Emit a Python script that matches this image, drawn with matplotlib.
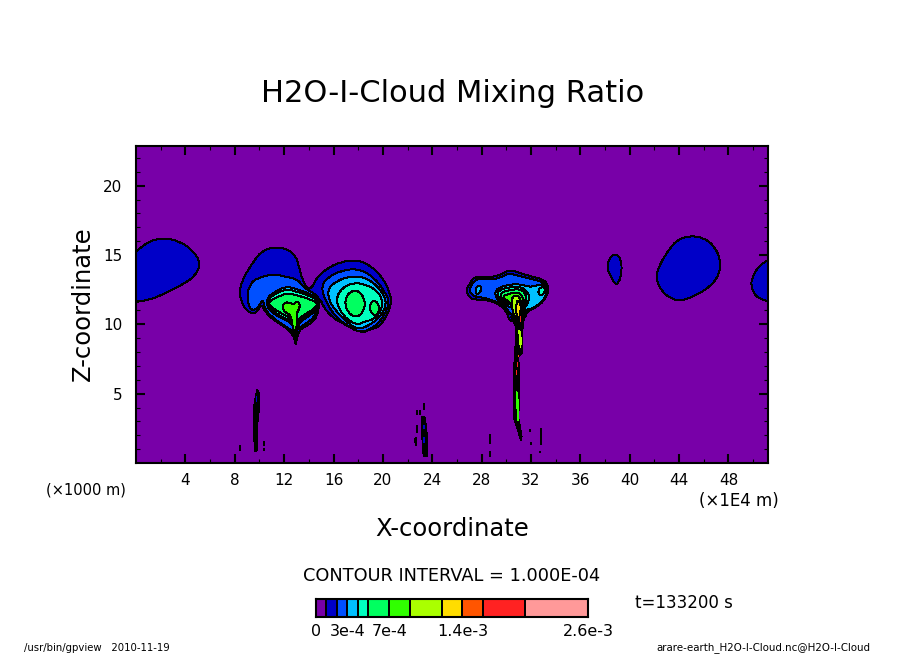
import matplotlib
matplotlib.use("Agg")
import matplotlib.pyplot as plt
from matplotlib.colors import ListedColormap, BoundaryNorm
from matplotlib.path import Path
from matplotlib.patches import PathPatch

W, H = 904, 654

# colour scale
levels = [0, 1e-4, 2e-4, 3e-4, 4e-4, 5e-4, 7e-4, 9e-4, 1.2e-3, 1.4e-3, 1.6e-3, 2e-3, 2.6e-3]
level_colors = ["#7800a8", "#0000c8", "#0050ff", "#00c0ff", "#00ffc0", "#00ff60",
                "#30ff00", "#aaff00", "#ffdd00", "#ff5500", "#ff2222", "#ff9999"]
bar_label_values = [0, 3e-4, 7e-4, 1.4e-3, 2.6e-3]
bar_label_texts = ["0", "3e-4", "7e-4", "1.4e-3", "2.6e-3"]

x_ticks = list(range(4, 49, 4))
z_ticks = [5, 10, 15, 20]

# contour outlines: (x [1e4 m], z [1000 m])
blob_left = [(-0.6, 14.7), (0.86, 15.95), (2.2, 16.25), (3.57, 15.98), (4.65, 15.3), (5.25, 14.4),
             (4.82, 13.5), (3.84, 12.9), (2.49, 12.3), (1.13, 11.75), (-0.6, 11.55)]
blob_small = [(38.22, 14.45), (38.5, 14.95), (38.95, 15.05), (39.3, 14.7), (39.36, 13.79),
              (39.12, 13.0), (38.82, 12.85), (38.5, 13.43), (38.2, 13.95)]
blob_big = [(42.1, 13.43), (42.42, 14.3), (43.1, 15.3), (43.78, 16.05), (44.76, 16.4), (46.0, 16.25),
            (46.85, 15.65), (47.37, 14.64), (47.27, 13.62), (46.58, 12.75), (45.43, 12.13), (44.22, 11.68),
            (43.38, 11.82), (42.52, 12.42)]
blob_right = [(51.9, 14.9), (50.55, 14.35), (49.95, 13.43), (49.8, 12.83), (50.1, 12.15), (50.57, 11.8),
              (51.9, 11.55)]
twin_l1 = [(8.35, 12.47), (8.78, 13.48), (9.46, 14.45), (10.15, 15.27), (11.13, 15.58), (12.25, 15.46),
           (12.95, 14.93), (13.2, 14.16), (13.47, 13.25), (13.83, 12.6), (14.24, 12.6), (14.62, 13.35),
           (15.42, 14.0), (16.53, 14.5), (17.88, 14.66), (19.02, 14.24), (19.98, 13.37), (20.53, 12.35),
           (20.72, 11.63), (20.38, 10.72), (19.7, 9.8), (18.96, 9.63), (18.29, 9.37), (17.02, 9.94),
           (15.92, 10.47), (15.12, 11.33), (14.91, 11.95), (14.7, 10.5), (13.87, 9.87), (13.2, 9.63),
           (12.94, 8.55), (12.94, 8.55), (12.72, 9.28), (12.17, 9.75), (11.08, 10.35), (10.4, 10.97),
           (10.18, 11.5), (9.66, 10.7), (8.92, 10.97), (8.48, 11.75)]
mid_l2 = [(8.95, 11.99), (9.24, 12.88), (9.75, 13.32), (11.13, 13.65), (12.21, 13.41), (13.05, 13.28),
          (13.6, 12.65), (14.55, 12.17), (14.92, 11.75), (14.56, 10.62), (13.74, 10.0), (13.05, 9.7),
          (12.9, 9.0), (12.9, 9.0), (12.72, 9.52), (12.03, 9.88), (11.08, 10.48), (10.4, 11.1),
          (10.3, 11.85), (9.9, 11.2), (9.32, 10.92)]
mid_l3 = [(10.6, 11.9), (11.22, 12.35), (12.21, 12.75), (13.2, 12.5), (14.14, 12.18), (14.85, 11.78),
          (14.78, 11.1), (14.0, 10.6), (13.2, 10.12), (12.94, 9.45), (12.94, 9.45), (12.72, 10.0),
          (12.03, 10.36), (11.2, 10.72), (10.6, 11.23)]
mid_l4 = [(10.68, 11.82), (11.3, 12.2), (12.21, 12.55), (13.18, 12.32), (14.12, 12.03), (14.78, 11.72),
          (14.72, 11.14), (13.95, 10.68), (13.14, 10.2), (12.92, 9.58), (12.92, 9.58), (12.76, 10.08),
          (12.1, 10.44), (11.28, 10.8), (10.68, 11.28)]
mid_l5 = [(10.78, 11.66), (11.46, 11.98), (12.21, 12.24), (13.16, 12.08), (14.1, 11.79), (14.68, 11.6),
          (14.62, 11.22), (13.84, 10.82), (13.08, 10.36), (12.9, 9.76), (12.9, 9.76), (12.81, 10.24),
          (12.2, 10.62), (11.4, 10.96), (10.8, 11.38)]
mid_heart = [(11.9, 11.39), (12.1, 11.6), (12.48, 11.55), (12.75, 11.42), (13.05, 11.67), (13.3, 11.48),
             (13.2, 11.05), (12.98, 10.75), (13.06, 10.28), (12.98, 9.65), (12.83, 9.35), (12.64, 10.05),
             (12.57, 10.64), (12.17, 10.82), (11.9, 11.05)]
east_l2 = [(15.02, 12.76), (15.54, 13.4), (16.67, 13.89), (18.02, 14.02), (19.28, 13.4), (20.12, 12.38),
           (20.54, 11.63), (20.12, 10.62), (19.28, 9.75), (18.15, 9.37), (17.17, 9.88), (16.07, 10.6),
           (15.25, 11.87)]
east_l3 = [(15.55, 12.52), (16.08, 13.02), (17.07, 13.42), (18.29, 13.47), (19.45, 12.9), (20.13, 12.02),
           (20.28, 11.39), (19.85, 10.6), (19.0, 9.98), (18.02, 9.6), (17.16, 10.1), (16.18, 10.97),
           (15.62, 11.75)]
east_l4 = [(16.25, 11.99), (16.74, 12.66), (17.58, 12.98), (18.45, 12.93), (19.58, 12.42), (20.0, 11.63),
           (19.85, 10.98), (19.28, 10.35), (18.56, 10.22), (18.02, 9.97), (17.3, 10.22), (16.74, 10.72),
           (16.3, 11.39)]
east_l5a = [(17.0, 11.87), (17.28, 12.3), (17.75, 12.45), (18.2, 12.3), (18.5, 11.78), (18.56, 11.27),
            (18.2, 10.64), (17.69, 10.52), (17.2, 10.84), (16.94, 11.39)]
east_l5b = [(18.9, 11.27), (19.1, 11.66), (19.45, 11.72), (19.72, 11.27), (19.65, 10.85), (19.37, 10.62),
            (19.05, 10.85)]
anvil_l1 = [(26.72, 12.47), (27.02, 12.9), (27.43, 13.46), (28.28, 13.41), (29.36, 13.46), (30.17, 13.95),
            (30.88, 13.77), (31.95, 13.46), (33.2, 13.2), (33.46, 12.47), (33.08, 11.7), (32.37, 11.2),
            (31.68, 10.95), (31.5, 10.38), (30.28, 10.12), (30.13, 10.75), (29.73, 11.2), (29.2, 11.55),
            (28.28, 11.78), (27.43, 11.78), (27.02, 11.93)]
anvil_l2 = [(26.93, 12.47), (27.57, 13.35), (28.42, 13.24), (29.36, 13.28), (30.17, 13.7), (30.88, 13.52),
            (31.95, 13.28), (33.08, 13.03), (33.3, 12.47), (32.93, 11.83), (32.36, 11.33), (31.68, 11.08),
            (31.35, 10.6), (30.4, 10.6), (30.0, 11.2), (29.32, 11.6), (28.25, 11.92), (27.38, 11.98)]
anvil_l3 = [(29.08, 12.5), (30.0, 12.84), (31.12, 12.92), (31.79, 12.68), (32.47, 12.8), (33.13, 12.93),
            (33.32, 12.35), (33.0, 11.7), (32.36, 11.27), (31.68, 11.0), (31.12, 11.18), (30.44, 11.18),
            (29.73, 11.43), (29.15, 11.85)]
anvil_spot_l3 = [(27.5, 12.58), (27.72, 12.82), (28.0, 12.72), (27.9, 12.3), (27.58, 12.13)]
anvil_spot_l4 = [(32.55, 12.48), (32.87, 12.72), (33.16, 12.6), (33.04, 12.17), (32.68, 12.03)]
anvil_l4 = [(29.3, 12.43), (30.17, 12.67), (31.14, 12.75), (31.8, 12.27), (31.87, 11.75), (31.52, 11.2),
            (31.12, 11.33), (30.44, 11.38), (29.82, 11.57), (29.3, 11.98)]
anvil_l5 = [(29.45, 12.28), (30.31, 12.48), (31.14, 12.56), (31.58, 12.2), (31.66, 11.63), (31.35, 11.08),
            (30.98, 11.38), (30.31, 11.52), (29.72, 11.7)]
anvil_l6 = [(29.58, 12.03), (30.44, 12.25), (31.0, 12.33), (31.38, 11.92), (31.47, 11.27), (31.15, 10.83),
            (30.7, 11.2), (30.27, 11.58)]
anvil_l7 = [(30.4, 11.9), (30.85, 12.15), (31.17, 11.8), (31.32, 11.03), (31.0, 10.1), (30.68, 10.5),
            (30.46, 11.15)]
anvil_l8 = [(30.8, 11.66), (31.07, 11.72), (31.2, 11.15), (31.02, 10.3), (30.8, 10.6)]
stem_main = [(31.44, 11.75), (31.52, 11.03), (31.33, 9.83), (31.25, 7.91), (30.98, 7.67), (31.04, 6.46),
             (31.07, 4.54), (30.96, 3.34), (31.25, 1.9), (31.17, 1.66), (30.93, 2.38), (30.58, 3.34),
             (30.58, 6.46), (30.71, 7.91), (30.79, 9.83), (30.39, 10.55), (30.98, 10.67), (31.17, 11.51)]
stem_west = [(9.64, 0.82), (9.51, 2.62), (9.59, 4.3), (9.72, 4.9), (9.83, 5.31), (9.97, 4.97), (9.91, 4.3),
             (9.91, 3.46), (9.78, 2.38), (9.78, 0.94)]
stem_mid = [(23.17, 3.3), (23.4, 3.3), (23.55, 2.2), (23.55, 0.46), (23.3, 0.46), (23.2, 1.6)]

# coloured slivers inside the stems
sliver_green = [(30.85, 5.14), (31.0, 4.3), (31.0, 3.1), (30.9, 3.1), (30.85, 4.3)]
sliver_lime = [(31.01, 9.59), (31.09, 9.59), (31.22, 8.87), (31.17, 8.34), (31.07, 8.63)]
sliver_red_a = [(31.09, 10.6), (31.2, 10.6), (31.2, 10.17), (31.09, 10.17)]
sliver_red_b = [(30.85, 7.31), (30.93, 7.31), (30.93, 6.95), (30.85, 6.95)]
sliver_red_c = [(30.79, 6.71), (30.87, 6.71), (30.87, 6.34), (30.79, 6.34)]
sliver_orange = [(30.96, 7.79), (31.04, 7.79), (31.04, 7.62), (30.96, 7.62)]
sliver_blue_a = [(9.69, 4.83), (9.8, 4.83), (9.8, 4.42), (9.69, 4.42)]
sliver_blue_b = [(23.27, 2.75), (23.42, 2.75), (23.42, 2.45), (23.27, 2.45)]
sliver_blue_c = [(23.27, 1.85), (23.42, 1.85), (23.42, 1.45), (23.27, 1.45)]

# isolated black flecks: x, z bottom, z top
fleck_x = [8.43, 10.37, 10.37, 9.99, 23.36, 22.74, 23.0, 22.78, 22.6, 22.72, 28.69, 28.66, 32.82, 32.78, 31.98, 31.9, 32.75]
fleck_z0 = [0.85, 1.25, 0.85, 3.6, 3.8, 3.45, 3.45, 2.15, 1.45, 1.25, 1.35, 0.46, 1.3, 2.3, 1.3, 2.25, 0.7]
fleck_z1 = [1.3, 1.6, 1.1, 4.6, 4.35, 3.8, 3.8, 2.75, 1.8, 1.9, 2.1, 0.85, 2.35, 2.55, 1.5, 2.45, 0.9]

# draw order: (level index, outline)
regions = [
    (1, blob_left), (1, blob_small), (1, blob_big), (1, blob_right),
    (1, twin_l1), (2, mid_l2), (2, east_l2), (3, east_l3), (4, east_l4),
    (5, east_l5a), (5, east_l5b),
    (3, mid_l3), (4, mid_l4), (5, mid_l5), (6, mid_heart),
    (1, anvil_l1), (2, anvil_l2), (3, anvil_l3), (3, anvil_spot_l3),
    (4, anvil_spot_l4), (4, anvil_l4), (5, anvil_l5), (6, anvil_l6),
]
stems = [stem_main, stem_west, stem_mid]
top_regions = [(7, anvil_l7), (8, anvil_l8)]
slivers = [(6, sliver_green), (7, sliver_lime), (10, sliver_red_a), (10, sliver_red_b), (10, sliver_red_c),
           (9, sliver_orange), (1, sliver_blue_a), (1, sliver_blue_b), (1, sliver_blue_c)]

fig = plt.figure(figsize=(W / 100, H / 100), dpi=100, facecolor="white")
ax = fig.add_axes([136 / W, 1 - 463 / H, 632 / W, 317 / H], facecolor=level_colors[0])
ax.set_xlim(0, 51.2)
ax.set_ylim(0, 22.86)


def smooth_path(pts):
    mids = [((pts[i][0] + pts[(i + 1) % len(pts)][0]) / 2, (pts[i][1] + pts[(i + 1) % len(pts)][1]) / 2)
            for i in range(len(pts))]
    verts, codes = [mids[-1]], [Path.MOVETO]
    for p, m in zip(pts, mids):
        verts += [p, m]
        codes += [Path.CURVE3, Path.CURVE3]
    verts.append(mids[-1])
    codes.append(Path.CLOSEPOLY)
    return Path(verts, codes)


for idx, pts in regions:
    ax.add_patch(PathPatch(smooth_path(pts), facecolor=level_colors[idx], edgecolor="black",
                           linewidth=0.7, antialiased=False, zorder=2))
for pts in stems:
    xs, zs = zip(*pts)
    ax.fill(xs, zs, color="black", antialiased=False, zorder=3, linewidth=0.5)
for idx, pts in top_regions:
    ax.add_patch(PathPatch(smooth_path(pts), facecolor=level_colors[idx], edgecolor="black",
                           linewidth=0.7, antialiased=False, zorder=4))
for idx, pts in slivers:
    xs, zs = zip(*pts)
    ax.fill(xs, zs, color=level_colors[idx], antialiased=False, zorder=5, linewidth=0)
ax.vlines(fleck_x, fleck_z0, fleck_z1, color="black", linewidth=1.3, zorder=3, antialiased=False)

for s in ax.spines.values():
    s.set_linewidth(1.5)
    s.set_zorder(10)
ax.set_xticks(x_ticks)
ax.set_xticks(range(2, 52, 4), minor=True)
ax.set_yticks(z_ticks)
ax.set_yticks([v for v in range(1, 23) if v % 5], minor=True)
ax.tick_params(which="major", direction="in", length=6.5, width=1.5, top=True, right=True,
               labelsize=11, pad=7)
ax.tick_params(which="minor", direction="in", length=3, width=0.8, top=True, right=True)
ax.tick_params(axis="y", which="major", pad=10)
ax.tick_params(axis="x", which="major", pad=7)


def label(px, py, s, size, ha="center", **kw):
    fig.text(px / W, 1 - py / H, s, fontsize=size, ha=ha, va="center", color="black", **kw)


label(452.5, 93, "H2O-I-Cloud Mixing Ratio", 22)
label(452.5, 529, "X-coordinate", 17.5)
label(83, 304, "Z-coordinate", 17.5, rotation=90)
label(86, 490, "(×1000 m)", 10.5)
label(739, 501, "(×1E4 m)", 12)
label(452, 576, "CONTOUR INTERVAL = 1.000E-04", 12.8)
label(684, 603, "t=133200 s", 12)
label(24, 648, "/usr/bin/gpview   2010-11-19", 7.3, ha="left")
label(870, 648, "arare-earth_H2O-I-Cloud.nc@H2O-I-Cloud", 7.4, ha="right")

# colour bar
cax = fig.add_axes([316 / W, 1 - 617 / H, 272 / W, 18 / H])
cmap = ListedColormap(level_colors)
norm = BoundaryNorm(levels, cmap.N)
mids = [(a + b) / 2 for a, b in zip(levels[:-1], levels[1:])]
cax.pcolormesh(levels, [0, 1], [mids], cmap=cmap, norm=norm, edgecolors="black", linewidth=1.4)
cax.set_xlim(0, levels[-1])
cax.set_ylim(0, 1)
cax.set_yticks([])
cax.set_xticks(bar_label_values)
cax.set_xticklabels(bar_label_texts, fontsize=11.5)
cax.tick_params(axis="x", length=0, pad=5)
for s in cax.spines.values():
    s.set_linewidth(1.5)

fig.savefig("out.png", dpi=100, facecolor="white")
